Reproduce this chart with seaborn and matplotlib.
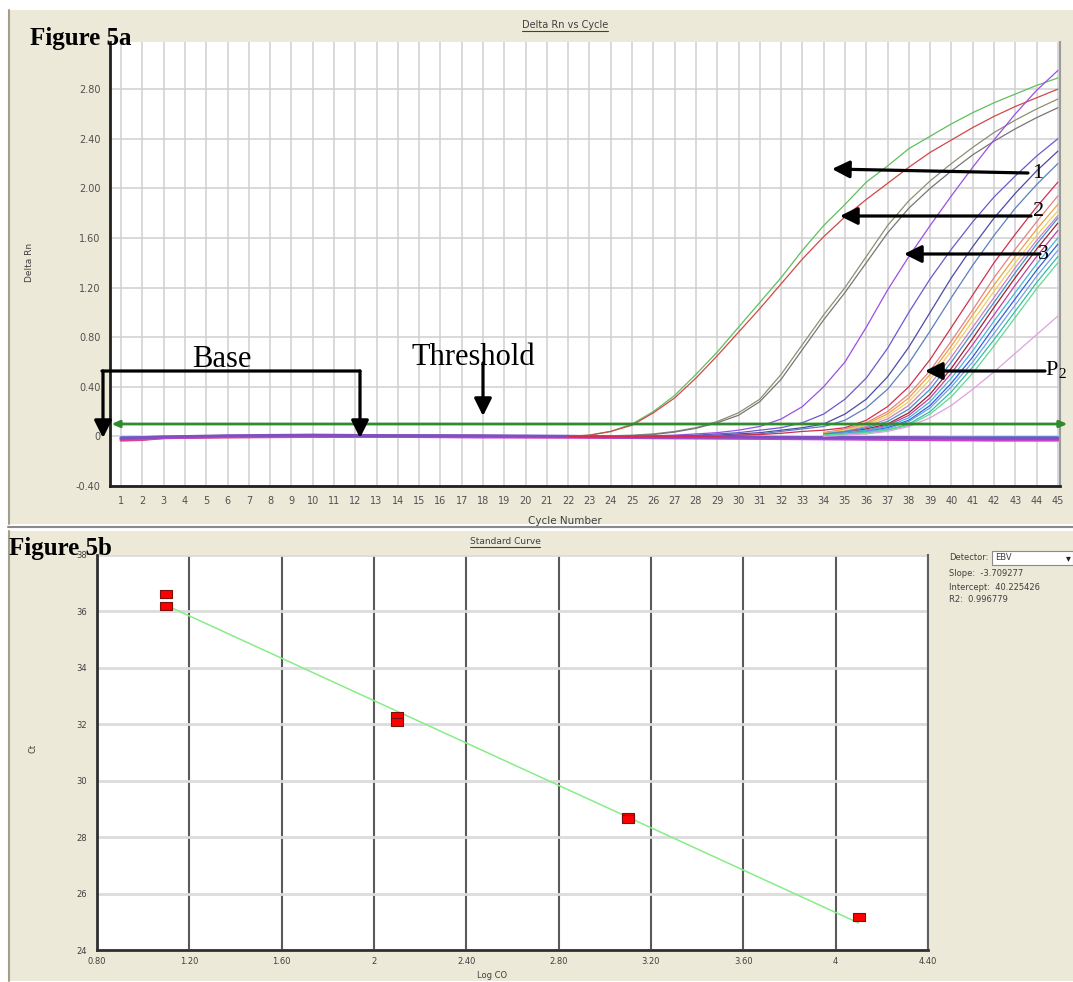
import numpy as np
import pandas as pd
import matplotlib
matplotlib.use("Agg")
import matplotlib.pyplot as plt
from matplotlib.patches import Rectangle
from matplotlib.lines import Line2D
from matplotlib.path import Path
import seaborn as sns

# ---------------- Figure 5a : Delta Rn vs Cycle ----------------
cycle_ticks = list(range(1, 46))
rn_ticks = [-0.40, 0, 0.40, 0.80, 1.20, 1.60, 2.00, 2.40, 2.80]
rn_tick_labels = ["-0.40", "0", "0.40", "0.80", "1.20", "1.60", "2.00", "2.40", "2.80"]
threshold = 0.1

# early risers, cycles 22..45
cycles_early = list(range(22, 46))
green_1 = [0.0, 0.01, 0.04, 0.10, 0.20, 0.33, 0.50, 0.68, 0.88, 1.08, 1.28, 1.50,
           1.70, 1.87, 2.05, 2.18, 2.32, 2.42, 2.52, 2.61, 2.69, 2.76, 2.83, 2.89]
red_1 = [0.0, 0.01, 0.04, 0.09, 0.19, 0.31, 0.47, 0.65, 0.84, 1.03, 1.23, 1.43,
         1.61, 1.77, 1.91, 2.04, 2.17, 2.29, 2.39, 2.49, 2.58, 2.66, 2.73, 2.80]
olive_gray = [0.0, 0.0, 0.005, 0.01, 0.02, 0.04, 0.07, 0.12, 0.19, 0.30, 0.50, 0.74,
              0.98, 1.20, 1.45, 1.70, 1.90, 2.06, 2.20, 2.33, 2.45, 2.55, 2.64, 2.72]
dark_gray = [0.0, 0.0, 0.0, 0.005, 0.015, 0.035, 0.065, 0.11, 0.17, 0.28, 0.46, 0.70,
             0.94, 1.16, 1.40, 1.64, 1.84, 2.00, 2.14, 2.27, 2.38, 2.48, 2.57, 2.65]
violet_a = [0.0, 0.0, 0.0, 0.0, 0.005, 0.01, 0.02, 0.03, 0.05, 0.08, 0.14, 0.24,
            0.40, 0.60, 0.88, 1.18, 1.45, 1.70, 1.94, 2.17, 2.39, 2.60, 2.79, 2.95]
violet_b = [0.0, 0.0, 0.0, 0.0, 0.0, 0.005, 0.01, 0.02, 0.03, 0.05, 0.07, 0.11,
            0.18, 0.30, 0.47, 0.71, 1.00, 1.27, 1.51, 1.73, 1.93, 2.10, 2.26, 2.40]
navy = [0.0, 0.0, 0.0, 0.0, 0.0, 0.0, 0.005, 0.01, 0.02, 0.03, 0.05, 0.07,
        0.10, 0.18, 0.30, 0.48, 0.72, 1.00, 1.28, 1.53, 1.76, 1.96, 2.14, 2.30]
slate = [0.0, 0.0, 0.0, 0.0, 0.0, 0.0, 0.0, 0.005, 0.01, 0.02, 0.04, 0.06,
         0.08, 0.13, 0.23, 0.38, 0.59, 0.85, 1.12, 1.38, 1.62, 1.84, 2.03, 2.20]
crimson = [0.0, 0.0, 0.0, 0.0, 0.0, 0.0, 0.0, 0.0, 0.01, 0.015, 0.025, 0.04,
           0.05, 0.07, 0.13, 0.24, 0.40, 0.62, 0.88, 1.14, 1.40, 1.63, 1.85, 2.05]

# late cluster, cycles 34..45
cycles_late = list(range(34, 46))
salmon = [0.03, 0.06, 0.11, 0.20, 0.34, 0.53, 0.77, 1.02, 1.28, 1.51, 1.73, 1.94]
orange = [0.03, 0.05, 0.10, 0.18, 0.31, 0.50, 0.73, 0.98, 1.22, 1.45, 1.67, 1.87]
yellow = [0.02, 0.05, 0.09, 0.16, 0.28, 0.46, 0.69, 0.93, 1.17, 1.40, 1.62, 1.82]
orchid = [0.02, 0.04, 0.08, 0.14, 0.25, 0.42, 0.64, 0.88, 1.12, 1.36, 1.58, 1.78]
steel = [0.02, 0.04, 0.07, 0.12, 0.22, 0.38, 0.60, 0.84, 1.08, 1.32, 1.55, 1.76]
maroon = [0.01, 0.03, 0.06, 0.10, 0.19, 0.34, 0.55, 0.79, 1.04, 1.28, 1.51, 1.72]
magenta = [0.01, 0.03, 0.05, 0.09, 0.17, 0.31, 0.51, 0.74, 0.98, 1.22, 1.45, 1.66]
cyan = [0.01, 0.03, 0.05, 0.08, 0.15, 0.28, 0.47, 0.69, 0.93, 1.16, 1.39, 1.60]
blue = [0.01, 0.02, 0.04, 0.07, 0.13, 0.25, 0.43, 0.64, 0.88, 1.11, 1.34, 1.55]
sky = [0.01, 0.02, 0.04, 0.06, 0.12, 0.23, 0.40, 0.60, 0.83, 1.06, 1.29, 1.50]
teal = [0.01, 0.02, 0.03, 0.05, 0.10, 0.20, 0.36, 0.56, 0.78, 1.01, 1.24, 1.45]
mint = [0.01, 0.02, 0.03, 0.05, 0.09, 0.18, 0.32, 0.51, 0.73, 0.96, 1.19, 1.40]
pink = [0.0, 0.01, 0.02, 0.04, 0.08, 0.15, 0.25, 0.38, 0.52, 0.67, 0.82, 0.97]

# flat wells (baseline / no amplification)
ctrl_cycles = [1, 2, 3, 6, 10, 14, 18, 22, 26, 30, 34, 38, 42, 45]
ctrl_a = [-0.03, -0.025, -0.01, -0.005, 0.0, 0.005, 0.0, -0.005, -0.01, -0.01, -0.015, -0.02, -0.02, -0.02]
ctrl_b = [-0.01, -0.01, -0.005, 0.0, 0.0, 0.005, 0.0, 0.0, -0.005, -0.01, -0.01, -0.015, -0.01, -0.01]
ctrl_c = [-0.02, -0.02, -0.01, 0.0, 0.0, 0.0, -0.005, -0.005, -0.01, -0.015, -0.02, -0.025, -0.03, -0.03]
ctrl_d = [-0.015, -0.01, -0.005, 0.005, 0.01, 0.005, 0.005, 0.0, -0.005, -0.005, -0.01, -0.01, -0.015, -0.015]

# ---------------- Figure 5b : Standard curve ----------------
log_co = [1.1, 1.1, 2.1, 2.1, 3.1, 3.1, 4.1]
ct = [36.62, 36.20, 32.30, 32.07, 28.72, 28.65, 25.17]
logco_ticks = [0.80, 1.20, 1.60, 2.0, 2.40, 2.80, 3.20, 3.60, 4.0, 4.40]
logco_tick_labels = ["0.80", "1.20", "1.60", "2", "2.40", "2.80", "3.20", "3.60", "4", "4.40"]
ct_ticks = [24, 26, 28, 30, 32, 34, 36, 38]
slope = -3.709277
intercept = 40.225426
r2 = 0.996779
detector = "EBV"

# ---------------- build tables ----------------
early = {"green_1": green_1, "red_1": red_1, "olive_gray": olive_gray, "dark_gray": dark_gray,
         "violet_a": violet_a, "violet_b": violet_b, "navy": navy, "slate": slate, "crimson": crimson}
late = {"salmon": salmon, "orange": orange, "yellow": yellow, "orchid": orchid, "steel": steel,
        "maroon": maroon, "magenta": magenta, "cyan": cyan, "blue": blue, "sky": sky,
        "teal": teal, "mint": mint, "pink": pink}
ctrls = {"ctrl_a": ctrl_a, "ctrl_b": ctrl_b, "ctrl_c": ctrl_c, "ctrl_d": ctrl_d}

rows = []
for name, vals in early.items():
    rows += [(name, c, v) for c, v in zip(cycles_early, vals)]
for name, vals in late.items():
    rows += [(name, c, v) for c, v in zip(cycles_late, vals)]
amp = pd.DataFrame(rows, columns=["well", "cycle", "rn"])

rows = []
for name, vals in ctrls.items():
    rows += [(name, c, v) for c, v in zip(ctrl_cycles, vals)]
flat = pd.DataFrame(rows, columns=["well", "cycle", "rn"])

palette = {"green_1": "#5CC05C", "red_1": "#D04848", "olive_gray": "#8E8E72", "dark_gray": "#767676",
           "violet_a": "#9A4FE6", "violet_b": "#6A5ACD", "navy": "#4B4BA8", "slate": "#5A7FC0",
           "crimson": "#D03050", "salmon": "#E88080", "orange": "#F0A040", "yellow": "#EFD060",
           "orchid": "#D080C0", "steel": "#4090D0", "maroon": "#A02030", "magenta": "#C040A0",
           "cyan": "#40B8D8", "blue": "#3060E0", "sky": "#70A0E8", "teal": "#30C0A0",
           "mint": "#60D890", "pink": "#E0A0E0",
           "ctrl_a": "#E0407A", "ctrl_b": "#5A8CE0", "ctrl_c": "#D040D0", "ctrl_d": "#8050C0"}

# ---------------- figure ----------------
sns.set_theme(style="white")
plt.rcParams['font.family'] = ['DejaVu Sans']

W, H = 1073, 982
fig = plt.figure(figsize=(W / 100, H / 100), dpi=100)
fig.patch.set_facecolor("white")


def fx(x):
    return x / W


def fy(y):
    return 1 - y / H


def P(x, y):
    return (x, H - y)


beige = "#ECE9D8"
fig.add_artist(Rectangle((fx(9), fy(524)), fx(1073) - fx(9), fy(10) - fy(524),
                         transform=fig.transFigure, facecolor=beige, edgecolor="none", zorder=-2))
fig.add_artist(Rectangle((fx(8), fy(981)), fx(1073) - fx(8), fy(531) - fy(981),
                         transform=fig.transFigure, facecolor=beige, edgecolor="none", zorder=-2))
for y0, y1 in [(10, 524), (531, 981)]:
    fig.add_artist(Line2D([fx(9), fx(9)], [fy(y0), fy(y1)], transform=fig.transFigure,
                          color="#A39F8C", lw=1.5, zorder=-1))
fig.add_artist(Line2D([fx(8), fx(1073)], [fy(527), fy(527)], transform=fig.transFigure,
                      color="#8A8A8A", lw=1.5, zorder=-1))

# ---- top axes ----
ax1 = fig.add_axes([fx(110), fy(486), fx(1060) - fx(110), fy(42) - fy(486)])
ax1.set_facecolor("white")
sns.lineplot(data=flat, x="cycle", y="rn", hue="well", palette=palette, estimator=None,
             legend=False, lw=2.2, ax=ax1)
sns.lineplot(data=amp, x="cycle", y="rn", hue="well", palette=palette, estimator=None,
             legend=False, lw=0.9, ax=ax1)
ax1.set_xlim(0.48, 45.1)
ax1.set_ylim(-0.40, 3.18)
ax1.set_xticks(cycle_ticks)
ax1.set_yticks(rn_ticks)
ax1.set_yticklabels(rn_tick_labels)
ax1.grid(True, color="#CFCFCF", lw=1.1)
ax1.set_axisbelow(True)
ax1.tick_params(length=0, labelsize=7, colors="#505050")
ax1.tick_params(axis="y", pad=7)
ax1.tick_params(axis="x", pad=7)
ax1.set_xlabel("")
ax1.set_ylabel("")
for s in ["left", "bottom"]:
    ax1.spines[s].set_color("#202020")
    ax1.spines[s].set_linewidth(2)
ax1.spines["right"].set_color("#9A9A9A")
ax1.spines["right"].set_linewidth(1.5)
ax1.spines["top"].set_visible(False)

# threshold line with end arrows
ax1.annotate("", xy=(45.45, threshold), xytext=(0.55, threshold),
             arrowprops=dict(arrowstyle="<|-|>,head_length=0.5,head_width=0.22", color="#2E8B2E",
                             lw=2, shrinkA=0, shrinkB=0, mutation_scale=9),
             annotation_clip=False)

fig.text(fx(30), fy(262), "Delta Rn", rotation=90, ha="center", va="center", fontsize=6.5, color="#404040")
fig.text(fx(565), fy(521), "Cycle Number", ha="center", va="center", fontsize=7.5, color="#404040")
t_top = fig.text(fx(565), fy(25), "Delta Rn vs Cycle", ha="center", va="center", fontsize=7, color="#404040")

# ---- annotations (arrows + labels) ----
arrow_kw = dict(arrowstyle="-|>,head_length=0.7,head_width=0.35", color="black", lw=2.3,
                shrinkA=0, shrinkB=0, mutation_scale=15)
for head, tail in [((832, 169), (1028, 173)), ((840, 216), (1031, 216)),
                   ((904, 254), (1040, 254)), ((925, 371), (1045, 371)),
                   ((103, 438), (103, 371)), ((360, 438), (360, 371)),
                   ((483, 416), (483, 363))]:
    ax1.annotate("", xy=P(*head), xycoords="figure pixels", xytext=P(*tail), textcoords="figure pixels",
                 arrowprops=arrow_kw, annotation_clip=False)
ax1.annotate("", xy=P(360, 371), xycoords="figure pixels", xytext=P(102, 371), textcoords="figure pixels",
             arrowprops=dict(arrowstyle="-", color="black", lw=2.3, shrinkA=0, shrinkB=0),
             annotation_clip=False)

serif = ["Liberation Serif", "DejaVu Serif"]
fig.text(fx(222), fy(367), "Base", ha="center", va="baseline", fontsize=22, family=serif, color="black")
fig.text(fx(473), fy(365), "Threshold", ha="center", va="baseline", fontsize=22, family=serif, color="black")
fig.text(fx(1032), fy(178), "1", ha="left", va="baseline", fontsize=16, family=serif, color="black")
fig.text(fx(1033), fy(216), "2", ha="left", va="baseline", fontsize=16, family=serif, color="black")
fig.text(fx(1038), fy(259), "3", ha="left", va="baseline", fontsize=16, family=serif, color="black")
fig.text(fx(1045), fy(375), "P", ha="left", va="baseline", fontsize=16, family=serif, color="black")
fig.text(fx(1058), fy(378), "2", ha="left", va="baseline", fontsize=11, family=serif, color="black")
fig.text(fx(30), fy(45), "Figure 5a", ha="left", va="baseline", fontsize=18, fontweight="bold",
         family=serif, color="black")

# ---- bottom axes ----
ax2 = fig.add_axes([fx(97), fy(950), fx(928) - fx(97), fy(555) - fy(950)])
ax2.set_facecolor("white")
rect = Path([(-1, -0.72), (1, -0.72), (1, 0.72), (-1, 0.72), (-1, -0.72)],
            [Path.MOVETO, Path.LINETO, Path.LINETO, Path.LINETO, Path.CLOSEPOLY])
sns.regplot(x=log_co, y=ct, ci=None, scatter=False, truncate=True,
            line_kws=dict(color="#86EE86", lw=1.1), ax=ax2)
sns.scatterplot(x=log_co, y=ct, marker=rect, s=80, color="#FF0000", edgecolor="#7A1010",
                linewidth=0.8, zorder=3, ax=ax2)
ax2.set_xlim(0.80, 4.40)
ax2.set_ylim(24, 38)
ax2.set_xticks(logco_ticks)
ax2.set_xticklabels(logco_tick_labels)
ax2.set_yticks(ct_ticks)
ax2.xaxis.grid(True, color="#5A5A5A", lw=1.5)
ax2.yaxis.grid(True, color="#DCDCDC", lw=2)
ax2.set_axisbelow(True)
ax2.tick_params(length=0, labelsize=6, colors="#404040")
ax2.tick_params(axis="y", pad=7)
ax2.tick_params(axis="x", pad=5)
ax2.set_xlabel("")
ax2.set_ylabel("")
for s in ["left", "bottom"]:
    ax2.spines[s].set_color("#303030")
    ax2.spines[s].set_linewidth(2)
ax2.spines["right"].set_color("#606060")
ax2.spines["right"].set_linewidth(1.5)
ax2.spines["top"].set_visible(False)

fig.text(fx(33), fy(748), "Ct", rotation=90, ha="center", va="center", fontsize=6, color="#404040")
fig.text(fx(492), fy(976), "Log CO", ha="center", va="center", fontsize=6, color="#404040")
t_bot = fig.text(fx(505), fy(542), "Standard Curve", ha="center", va="center", fontsize=6.5, color="#404040")
fig.text(fx(9), fy(555), "Figure 5b", ha="left", va="baseline", fontsize=18, fontweight="bold",
         family=serif, color="black")

# info panel
fig.add_artist(Rectangle((fx(992), fy(565)), fx(1073) - fx(992), fy(551) - fy(565),
                         transform=fig.transFigure, facecolor="white", edgecolor="#8A8A8A", lw=0.8))
fig.text(fx(1068), fy(558), "\u25BE", ha="center", va="center", fontsize=7, color="#202020")
fig.text(fx(949), fy(558), "Detector:", ha="left", va="center", fontsize=6, color="#404040")
fig.text(fx(995), fy(558), detector, ha="left", va="center", fontsize=6, color="#404040")
fig.text(fx(949), fy(573), f"Slope:  {slope:.6f}", ha="left", va="center", fontsize=6, color="#404040")
fig.text(fx(949), fy(587), f"Intercept:  {intercept:.6f}", ha="left", va="center", fontsize=6, color="#404040")
fig.text(fx(949), fy(600), f"R2:  {r2:.6f}", ha="left", va="center", fontsize=6, color="#404040")

# underline the chart titles
fig.canvas.draw()
for t in [t_top, t_bot]:
    bb = t.get_window_extent()
    yy = (bb.y0 - 0.5) / H
    fig.add_artist(Line2D([bb.x0 / W, bb.x1 / W], [yy, yy], transform=fig.transFigure,
                          color="#404040", lw=0.8))

fig.savefig("out.png", dpi=100)
